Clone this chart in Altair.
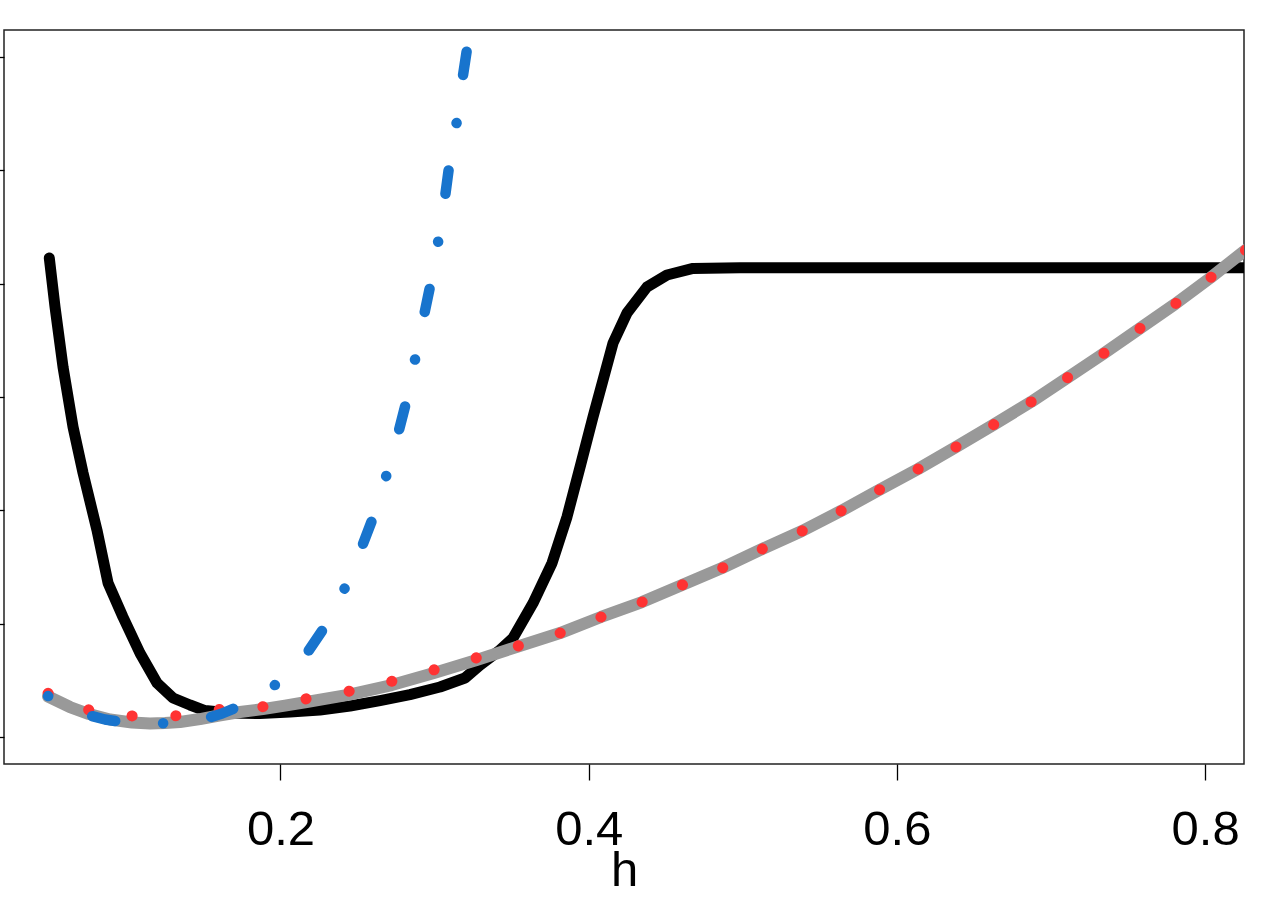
import altair as alt
import pandas as pd

# ---- data ----
h_black = [0.050, 0.0537, 0.0589, 0.0654, 0.0719, 0.0809, 0.0881, 0.0978, 0.1088, 0.1199,
           0.1303, 0.1413, 0.1510, 0.1672, 0.1867, 0.2062, 0.2256, 0.2451, 0.2646, 0.2840,
           0.3035, 0.3197, 0.3295, 0.3424, 0.3509, 0.3639, 0.3762, 0.3859, 0.3944, 0.4028,
           0.4093, 0.4158, 0.4249, 0.4378, 0.4508, 0.4677, 0.4982, 0.84]
y_black = [4.227, 3.795, 3.265, 2.735, 2.329, 1.826, 1.358, 1.058, 0.740, 0.475,
           0.343, 0.281, 0.232, 0.210, 0.206, 0.219, 0.237, 0.272, 0.320, 0.373,
           0.440, 0.519, 0.634, 0.766, 0.872, 1.181, 1.534, 1.941, 2.382, 2.824,
           3.150, 3.477, 3.742, 3.971, 4.077, 4.135, 4.140, 4.140]

h_gray = [0.0492, 0.0634, 0.0758, 0.0894, 0.1037, 0.1153, 0.1251, 0.1348, 0.1478, 0.1601,
          0.1737, 0.1885, 0.2029, 0.2170, 0.2447, 0.2722, 0.2996, 0.3273, 0.3541, 0.3814,
          0.4080, 0.4346, 0.4606, 0.4865, 0.5125, 0.5384, 0.5637, 0.5884, 0.6137, 0.6383,
          0.6624, 0.6870, 0.7104, 0.7337, 0.7571, 0.7805, 0.8032, 0.8246, 0.846]
y_gray = [0.356, 0.263, 0.201, 0.153, 0.126, 0.117, 0.122, 0.131, 0.157, 0.188,
          0.219, 0.245, 0.276, 0.307, 0.373, 0.457, 0.563, 0.678, 0.797, 0.916,
          1.058, 1.190, 1.340, 1.490, 1.658, 1.817, 1.994, 2.179, 2.364, 2.559,
          2.753, 2.956, 3.168, 3.380, 3.600, 3.821, 4.051, 4.280, 4.510]

h_red = [0.0492, 0.0758, 0.1039, 0.1322, 0.1601, 0.1885, 0.2170, 0.2447, 0.2722, 0.2996,
         0.3273, 0.3541, 0.3814, 0.4080, 0.4346, 0.4606, 0.4865, 0.5125, 0.5384, 0.5637,
         0.5884, 0.6137, 0.6383, 0.6624, 0.6870, 0.7104, 0.7337, 0.7571, 0.7805, 0.8032,
         0.8246, 0.846]
y_red = [0.384, 0.237, 0.184, 0.186, 0.241, 0.266, 0.336, 0.403, 0.490, 0.591,
         0.698, 0.802, 0.916, 1.058, 1.190, 1.340, 1.490, 1.658, 1.817, 1.994,
         2.179, 2.364, 2.559, 2.753, 2.956, 3.168, 3.380, 3.600, 3.821, 4.051,
         4.280, 4.510]

h_blue = [0.0492, 0.0634, 0.0751, 0.0861, 0.0972, 0.1089, 0.1240, 0.1381, 0.1521, 0.1621,
          0.1726, 0.1841, 0.1969, 0.2062, 0.2170, 0.2289, 0.2419, 0.2527, 0.2602, 0.2689,
          0.2765, 0.2819, 0.2875, 0.2931, 0.2975, 0.3024, 0.3068, 0.3096, 0.3144, 0.3180,
          0.3212, 0.3243]
y_blue = [0.360, 0.263, 0.192, 0.153, 0.131, 0.119, 0.119, 0.135, 0.163, 0.206,
          0.266, 0.351, 0.462, 0.581, 0.736, 0.974, 1.317, 1.673, 1.941, 2.315,
          2.686, 2.973, 3.344, 3.718, 4.005, 4.379, 4.769, 5.055, 5.430, 5.801,
          6.088, 6.417]

x_ticks = [0.2, 0.4, 0.6, 0.8]
y_ticks = [0, 1, 2, 3, 4, 5, 6]

FONT = "Liberation Sans"


def frame(h, y):
    return pd.DataFrame({"h": h, "y": y})


X = alt.X(
    "h:Q",
    scale=alt.Scale(domain=[0.0206, 0.8252], nice=False, zero=False),
    axis=alt.Axis(
        values=x_ticks, format=".1f", grid=False, domain=False,
        tickColor="black", tickSize=16, tickWidth=1.3,
        labelFont=FONT, labelFontSize=49, labelColor="black",
        labelBaseline="alphabetic", labelPadding=64,
        labelFlush=False, labelOverlap=False,
        title="h", titleFont=FONT, titleFontSize=49, titleFontWeight="normal",
        titleColor="black", titleBaseline="alphabetic", titleY=121,
    ),
)
Y = alt.Y(
    "y:Q",
    scale=alt.Scale(domain=[-0.24, 6.24], nice=False, zero=False),
    axis=alt.Axis(
        values=y_ticks, labels=False, grid=False, domain=False,
        tickColor="black", tickSize=16, tickWidth=1.3, title=None,
    ),
)

black = alt.Chart(frame(h_black, y_black)).mark_line(
    color="black", strokeWidth=11, strokeCap="round", strokeJoin="round", clip=True
).encode(x=X, y=Y)

gray = alt.Chart(frame(h_gray, y_gray)).mark_line(
    color="#999999", strokeWidth=12, strokeCap="round", strokeJoin="round", clip=True
).encode(x=X, y=Y)

red = alt.Chart(frame(h_red, y_red)).mark_line(
    color="#FF3333", strokeWidth=11, strokeCap="round", strokeJoin="round",
    strokeDash=[0.1, 43.7], clip=True
).encode(x=X, y=Y)

blue = alt.Chart(frame(h_blue, y_blue)).mark_line(
    color="#1874CD", strokeWidth=10.5, strokeCap="round", strokeJoin="round",
    strokeDash=[0.1, 48.5, 23.5, 48], clip=True
).encode(x=X, y=Y)

chart = alt.layer(black, gray, red, blue).properties(
    width=1240,
    height=734,
    padding={"left": 4, "top": 30, "right": 31, "bottom": 136},
    autosize=alt.AutoSizeParams(type="none"),
    background="white",
).configure_view(stroke="#222222", strokeWidth=1.5)

chart.save("out.html", embed_options={"renderer": "svg", "actions": False})
